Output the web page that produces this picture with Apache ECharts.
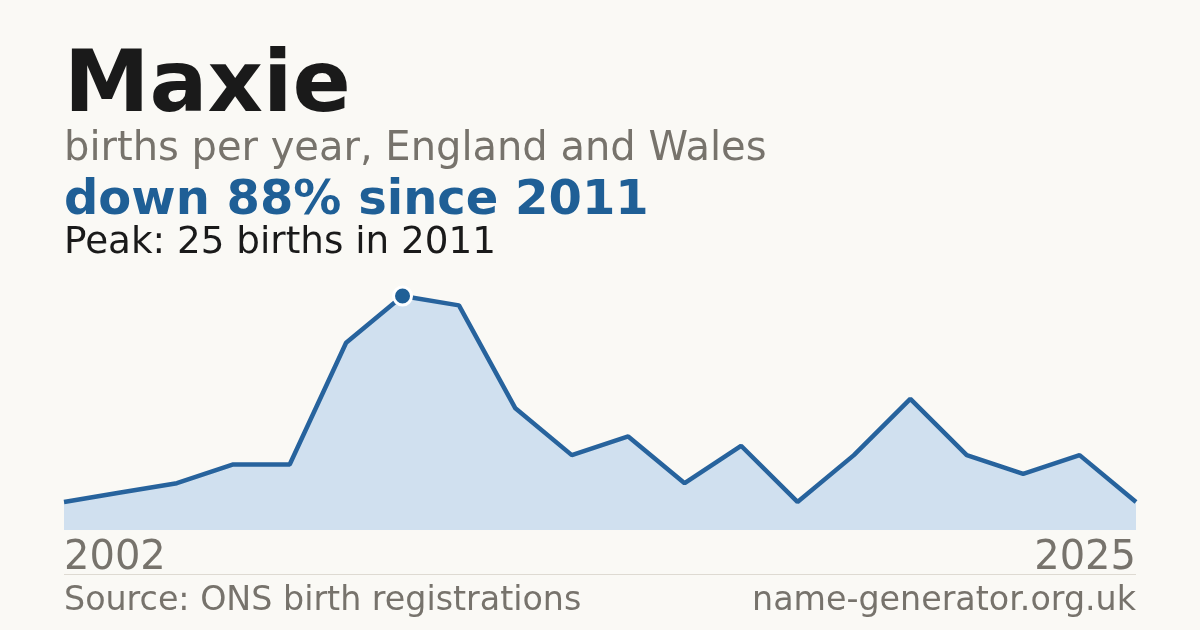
<!DOCTYPE html>
<html>
<head>
<meta charset="utf-8">
<script src="https://cdn.jsdelivr.net/npm/echarts@6/dist/echarts.min.js"></script>
<style>
html,body{margin:0;padding:0;background:#faf9f5;}
#c{width:1200px;height:630px;}
</style>
</head>
<body>
<div id="c"></div>
<script>
var years = ['2002','2003','2004','2006','2007','2009','2011','2012','2013','2014','2015','2017','2018','2019','2020','2021','2022','2023','2024','2025'];
var births = [3, 4, 5, 7, 7, 20, 25, 24, 13, 8, 10, 5, 9, 3, 8, 14, 8, 6, 8, 3];
var peakIndex = 6;

var FONT = 'DejaVu Sans';
var chart = echarts.init(document.getElementById('c'), null, {renderer: 'canvas'});
var peakData = births.map(function (v, i) { return i === peakIndex ? v : null; });

chart.setOption({
  backgroundColor: '#faf9f5',
  animation: false,
  grid: {left: 64, right: 64, top: 296, bottom: 100},
  xAxis: {
    type: 'category',
    data: years,
    boundaryGap: false,
    axisLine: {show: false},
    axisTick: {show: false},
    splitLine: {show: false},
    axisLabel: {
      interval: function (i) { return i === 0 || i === years.length - 1; },
      showMinLabel: true,
      showMaxLabel: true,
      alignMinLabel: 'left',
      alignMaxLabel: 'right',
      margin: 9,
      color: '#77736c',
      fontFamily: FONT,
      fontSize: 40,
      lineHeight: 40
    }
  },
  yAxis: {
    type: 'value',
    min: 0,
    max: 25,
    show: false
  },
  series: [
    {
      type: 'line',
      data: births,
      symbol: 'none',
      lineStyle: {color: '#2763 9d'.replace(' ', ''), width: 4.5},
      areaStyle: {color: '#d0e0ef', opacity: 1},
      z: 2
    },
    {
      type: 'line',
      data: peakData,
      symbol: 'circle',
      symbolSize: 18,
      showSymbol: true,
      lineStyle: {opacity: 0},
      itemStyle: {color: '#1f5f96', borderColor: '#ffffff', borderWidth: 3},
      z: 5
    }
  ],
  graphic: [
    {type: 'text', x: 64, y: 89, style: {text: 'Maxie', font: 'bold 86px "DejaVu Sans"', fill: '#1a1a1a', verticalAlign: 'middle'}},
    {type: 'text', x: 64, y: 150, style: {text: 'births per year, England and Wales', font: '40px "DejaVu Sans"', fill: '#77736c', verticalAlign: 'middle'}},
    {type: 'text', x: 64, y: 202, style: {text: 'down 88% since 2011', font: 'bold 48px "DejaVu Sans"', fill: '#1f5f96', verticalAlign: 'middle'}},
    {type: 'text', x: 64, y: 243, style: {text: 'Peak: 25 births in 2011', font: '37.3px "DejaVu Sans"', fill: '#1a1a1a', verticalAlign: 'middle'}},
    {type: 'line', shape: {x1: 64, y1: 574.5, x2: 1136, y2: 574.5}, style: {stroke: '#dedad2', lineWidth: 1}},
    {type: 'text', x: 64, y: 601, style: {text: 'Source: ONS birth registrations', font: '33.3px "DejaVu Sans"', fill: '#77736c', verticalAlign: 'middle'}},
    {type: 'text', x: 1136, y: 601, style: {text: 'name-generator.org.uk', font: '33.3px "DejaVu Sans"', fill: '#77736c', align: 'right', verticalAlign: 'middle'}}
  ]
});
</script>
</body>
</html>
